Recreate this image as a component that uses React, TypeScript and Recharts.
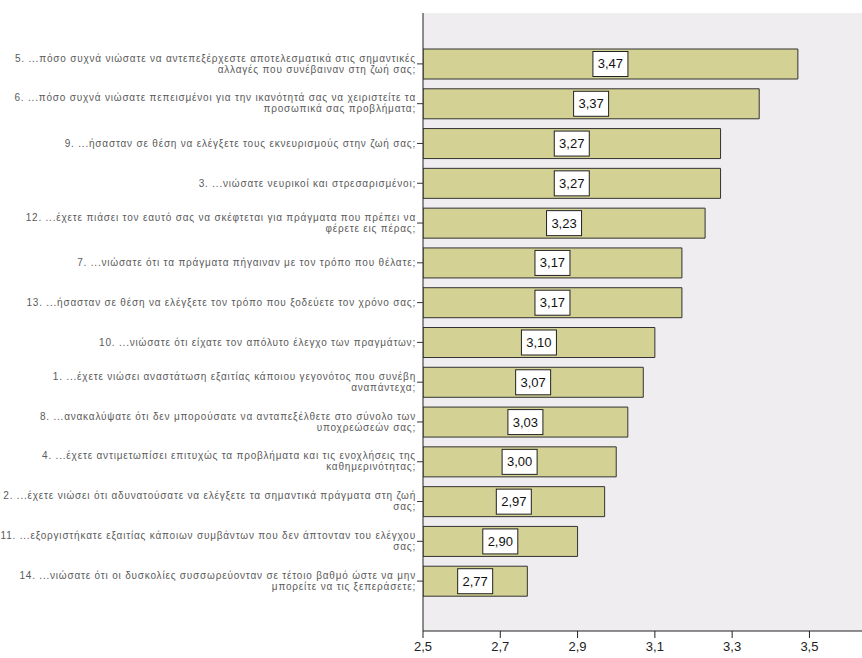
import React from 'react';
import { BarChart, Bar, XAxis, YAxis, CartesianGrid, LabelList } from 'recharts';

// Item wording (lines separated by \n) and mean scores, top to bottom
const items: string[] = [
  '5. ...πόσο συχνά νιώσατε να αντεπεξέρχεστε αποτελεσματικά στις σημαντικές\nαλλαγές που συνέβαιναν στη ζωή σας;',
  '6. ...πόσο συχνά νιώσατε πεπεισμένοι για την ικανότητά σας να χειριστείτε τα\nπροσωπικά σας προβλήματα;',
  '9. ...ήσασταν σε θέση να ελέγξετε τους εκνευρισμούς στην ζωή σας;',
  '3. ...νιώσατε νευρικοί και στρεσαρισμένοι;',
  '12. ...έχετε πιάσει τον εαυτό σας να σκέφτεται για πράγματα που πρέπει να\nφέρετε εις πέρας;',
  '7. ...νιώσατε ότι τα πράγματα πήγαιναν με τον τρόπο που θέλατε;',
  '13. ...ήσασταν σε θέση να ελέγξετε τον τρόπο που ξοδεύετε τον χρόνο σας;',
  '10. ...νιώσατε ότι είχατε τον απόλυτο έλεγχο των πραγμάτων;',
  '1. ...έχετε νιώσει αναστάτωση εξαιτίας κάποιου γεγονότος που   συνέβη\nαναπάντεχα;',
  '8. ...ανακαλύψατε ότι δεν μπορούσατε να ανταπεξέλθετε στο σύνολο των\nυποχρεώσεών σας;',
  '4. ...έχετε αντιμετωπίσει επιτυχώς τα προβλήματα και τις ενοχλήσεις της\nκαθημερινότητας;',
  '2. ...έχετε νιώσει ότι αδυνατούσατε να ελέγξετε τα σημαντικά πράγματα στη ζωή\nσας;',
  '11. ...εξοργιστήκατε εξαιτίας κάποιων συμβάντων που δεν άπτονταν του ελέγχου\nσας;',
  '14. ...νιώσατε ότι οι δυσκολίες συσσωρεύονταν σε τέτοιο βαθμό ώστε να μην\nμπορείτε να τις ξεπεράσετε;',
];

const means: number[] = [3.47, 3.37, 3.27, 3.27, 3.23, 3.17, 3.17, 3.1, 3.07, 3.03, 3.0, 2.97, 2.9, 2.77];

const xTicks: number[] = [2.5, 2.7, 2.9, 3.1, 3.3, 3.5];
const xDomain: [number, number] = [2.5, 3.636];

const data = items.map((label, i) => ({ label, mean: means[i] }));

const FONT = '"Liberation Sans", Arial, sans-serif';
const comma = (v: number, d: number) => v.toFixed(d).replace('.', ',');

// Right-aligned, possibly two-line item label
const ItemTick = (props: any) => {
  const { x, y, payload } = props;
  const lines: string[] = String(payload.value).split('\n');
  return (
    <g>
      {lines.map((line, i) => (
        <text
          key={i}
          x={x}
          y={lines.length > 1 ? y - 5 + i * 11 : y + 1}
          textAnchor="end"
          dominantBaseline="middle"
          fontFamily={FONT}
          fontSize={10}
          letterSpacing={0.8}
          fill="#5a5a5a"
        >
          {line}
        </text>
      ))}
    </g>
  );
};

// Boxed mean value at the centre of each bar
const ValueBox = (props: any) => {
  const { x, y, width, height, value } = props;
  const cx = x + width / 2;
  const cy = y + height / 2;
  return (
    <g>
      <rect x={cx - 17.5} y={cy - 12.5} width={35} height={25} fill="#fff" stroke="#222" strokeWidth={1} />
      <text x={cx} y={cy + 1} textAnchor="middle" dominantBaseline="middle" fontFamily={FONT} fontSize={13} fill="#111">
        {comma(value, 2)}
      </text>
    </g>
  );
};

export default function App() {
  return (
    <div style={{ position: 'absolute', left: 0, top: 0, width: 862, height: 658, overflow: 'hidden', background: '#fff' }}>
      <BarChart
        width={862}
        height={658}
        data={data}
        layout="vertical"
        margin={{ top: 13, right: 0, bottom: 0, left: 0 }}
        barSize={30}
      >
        <CartesianGrid horizontal={false} vertical={false} fill="#efedef" />
        <XAxis
          xAxisId="top"
          orientation="top"
          type="number"
          domain={xDomain}
          allowDataOverflow
          height={0}
          tick={false}
          tickLine={false}
          axisLine={{ stroke: '#222' }}
        />
        <XAxis
          type="number"
          domain={xDomain}
          ticks={xTicks}
          allowDataOverflow
          height={27}
          tickSize={7}
          tickMargin={4}
          tickFormatter={(v: number) => comma(v, 1)}
          tick={{ fontFamily: FONT, fontSize: 13, fill: '#222' }}
          axisLine={{ stroke: '#222' }}
          tickLine={{ stroke: '#222' }}
        />
        <YAxis
          type="category"
          dataKey="label"
          width={423}
          tickSize={6}
          tickMargin={1}
          interval={0}
          padding={{ top: 31, bottom: 30 }}
          tick={<ItemTick />}
          axisLine={{ stroke: '#222' }}
          tickLine={{ stroke: '#333' }}
        />
        <Bar dataKey="mean" fill="#d4d194" stroke="#333" strokeWidth={1} isAnimationActive={false}>
          <LabelList dataKey="mean" content={<ValueBox />} />
        </Bar>
      </BarChart>
    </div>
  );
}
